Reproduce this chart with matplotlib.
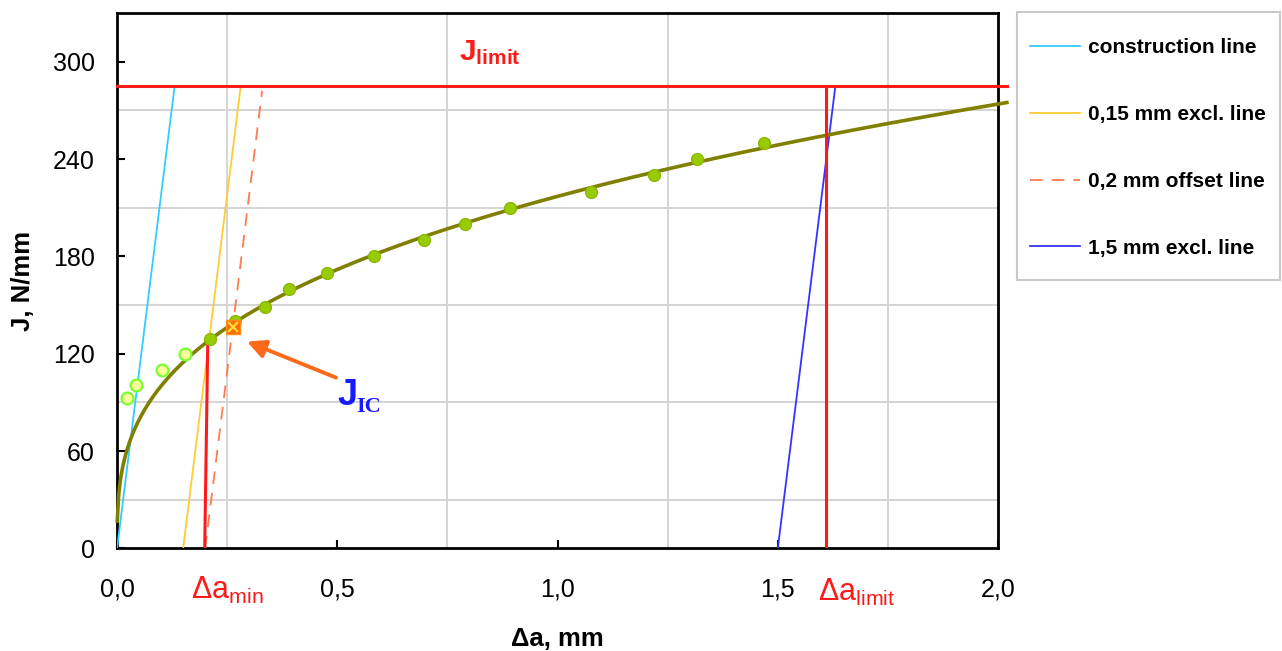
import numpy as np
import matplotlib
matplotlib.use("Agg")
import matplotlib.pyplot as plt
from matplotlib.patches import Rectangle
from matplotlib.transforms import blended_transform_factory

plt.rcParams['font.family'] = ['Liberation Sans', 'DejaVu Sans']
plt.rcParams['mathtext.fontset'] = 'custom'
plt.rcParams['mathtext.rm'] = 'Liberation Sans'
plt.rcParams['mathtext.it'] = 'Liberation Sans'
plt.rcParams['mathtext.bf'] = 'Liberation Sans:bold'

# Crack extension (mm) and J-integral (N/mm) of the valid R-curve points
da_valid = [0.212, 0.267, 0.336, 0.391, 0.476, 0.583, 0.696, 0.790, 0.892, 1.077, 1.218, 1.317, 1.468]
J_valid = [129, 140, 149, 160, 170, 180, 190, 200, 210, 220, 230, 240, 250]

# Points excluded from the fit (below the 0.15 mm exclusion line)
da_excl = [0.022, 0.044, 0.103, 0.154]
J_excl = [93, 101, 110, 120]

# Evaluation quantities
J_limit = 285.0
blunting_slope = 2180.0          # slope of the construction line, N/mm per mm
excl_offsets = [0.0, 0.15, 0.20, 1.50]
excl_labels = ['construction line', '0,15 mm excl. line', '0,2 mm offset line', '1,5 mm excl. line']
excl_colors = ['#33ccff', '#ffcc33', '#ff7a50', '#3333ff']
excl_styles = ['-', '-', (0, (7, 5)), '-']
excl_tops = [J_limit, J_limit, 282.0, J_limit]

JIc_point = (0.263, 136.5)
da_min_line = ([0.199, 0.206], [0.0, 128.0])
da_limit = 1.609

x_ticks = [0.0, 0.5, 1.0, 1.5, 2.0]
x_ticklabels = ['0,0', '0,5', '1,0', '1,5', '2,0']
y_ticks = [0, 60, 120, 180, 240, 300]

fig = plt.figure(figsize=(12.82, 6.51), dpi=100)
ax = fig.add_axes([0.0913, 0.1575, 0.6872, 0.8225])

ax.set_xlim(0, 2.0)
ax.set_ylim(0, 330)
ax.set_xticks(x_ticks)
ax.set_xticklabels(x_ticklabels)
ax.set_yticks(y_ticks)
ax.set_xticks(np.arange(0, 2.01, 0.25), minor=True)
ax.set_yticks(np.arange(0, 331, 30), minor=True)
ax.tick_params(which='minor', length=0)
ax.tick_params(which='major', direction='in', length=6, width=1.5, labelsize=18)
ax.tick_params(axis='x', pad=21)
ax.tick_params(axis='y', pad=16)
ax.grid(which='minor', color='#d4d4d4', lw=1.4)
ax.set_axisbelow(True)
for sp in ax.spines.values():
    sp.set_linewidth(2.0)
    sp.set_color('black')

# Power-law fit of the valid points: J = C * da^n
n, lnC = np.polyfit(np.log(da_valid), np.log(J_valid), 1)
da_fit = np.linspace(0.0005, 2.02, 600)
J_fit = np.exp(lnC) * da_fit ** n
ax.plot(da_fit, J_fit, color='#7f7f00', lw=2.6, zorder=4, clip_on=False)

# Construction, exclusion and offset lines
for off, lab, col, ls, top in zip(excl_offsets, excl_labels, excl_colors, excl_styles, excl_tops):
    ax.plot([off, off + top / blunting_slope], [0, top], color=col, ls=ls, lw=1.3,
            label=lab, zorder=3)

# J limit
ax.plot([0, 2.02], [J_limit, J_limit], color='#ff1a1a', lw=2.2, zorder=5, clip_on=False)
ax.text(0.847, 305.5, r'$\mathbf{J_{limit}}$', color='#ff1a1a', fontsize=21.5,
        ha='center', va='center')

# Delta a min / limit markers
ax.plot(da_min_line[0], da_min_line[1], color='#ff1a1a', lw=2.2, zorder=5)
ax.plot([da_limit, da_limit], [0, J_limit], color='#ff1a1a', lw=2.2, zorder=5)

# Data points
ax.plot(da_excl, J_excl, 'o', ms=8.5, mfc='#ffff99', mec='#77ff33', mew=1.6, zorder=6)
ax.plot(da_valid, J_valid, 'o', ms=8.5, mfc='#99cc00', mec='#8ab800', mew=1.0, zorder=6)

# J_Ic point
ax.plot(*JIc_point, 's', ms=10, mfc='#ff6a00', mec='#ff8c1a', mew=1.0, zorder=7)
ax.plot(*JIc_point, 'x', ms=7, mec='#ffdd33', mew=1.6, zorder=8)

ax.annotate('', xy=(0.295, 127.5), xytext=(0.497, 105.3),
            arrowprops=dict(arrowstyle='-|>,head_length=1.1,head_width=0.55',
                            color='#ff6a1a', lw=2.8, shrinkA=0, shrinkB=0), zorder=8)
ax.text(0.500, 88.6, 'J', color='#1a1aff', fontsize=26, fontweight='bold',
        ha='left', va='baseline')
ax.text(0.544, 83.9, 'IC', color='#1a1aff', fontsize=16, fontweight='bold',
        family='Liberation Serif', ha='left', va='baseline')

# Axis annotations below the x axis
trans = blended_transform_factory(ax.transData, ax.transAxes)
ax.text(0.251, -0.0775, r'$\Delta\mathrm{a}_{\mathrm{min}}$', transform=trans,
        color='#ff1a1a', fontsize=22, ha='center', va='center')
ax.text(1.679, -0.082, r'$\Delta\mathrm{a}_{\mathrm{limit}}$', transform=trans,
        color='#ff1a1a', fontsize=22, ha='center', va='center')

ax.set_xlabel('Δa, mm', fontsize=18.5, fontweight='bold', labelpad=18)
ax.set_ylabel('J, N/mm', fontsize=18.5, fontweight='bold', labelpad=13)

# Legend panel
fig.patches.append(Rectangle((1017 / 1282, 1 - 280 / 651), 263 / 1282, 268 / 651,
                             transform=fig.transFigure, fill=False,
                             edgecolor='#c8c8c8', lw=1.5))
fig.legend(loc='upper left', bbox_to_anchor=(1030 / 1282, 1 - 38 / 651),
           frameon=False,
           prop={'family': 'Liberation Sans', 'weight': 'bold', 'size': 15},
           handlelength=2.4, handletextpad=0.38, labelspacing=2.3,
           borderpad=0.0, borderaxespad=0.0)

fig.savefig('out.png', dpi=100)
